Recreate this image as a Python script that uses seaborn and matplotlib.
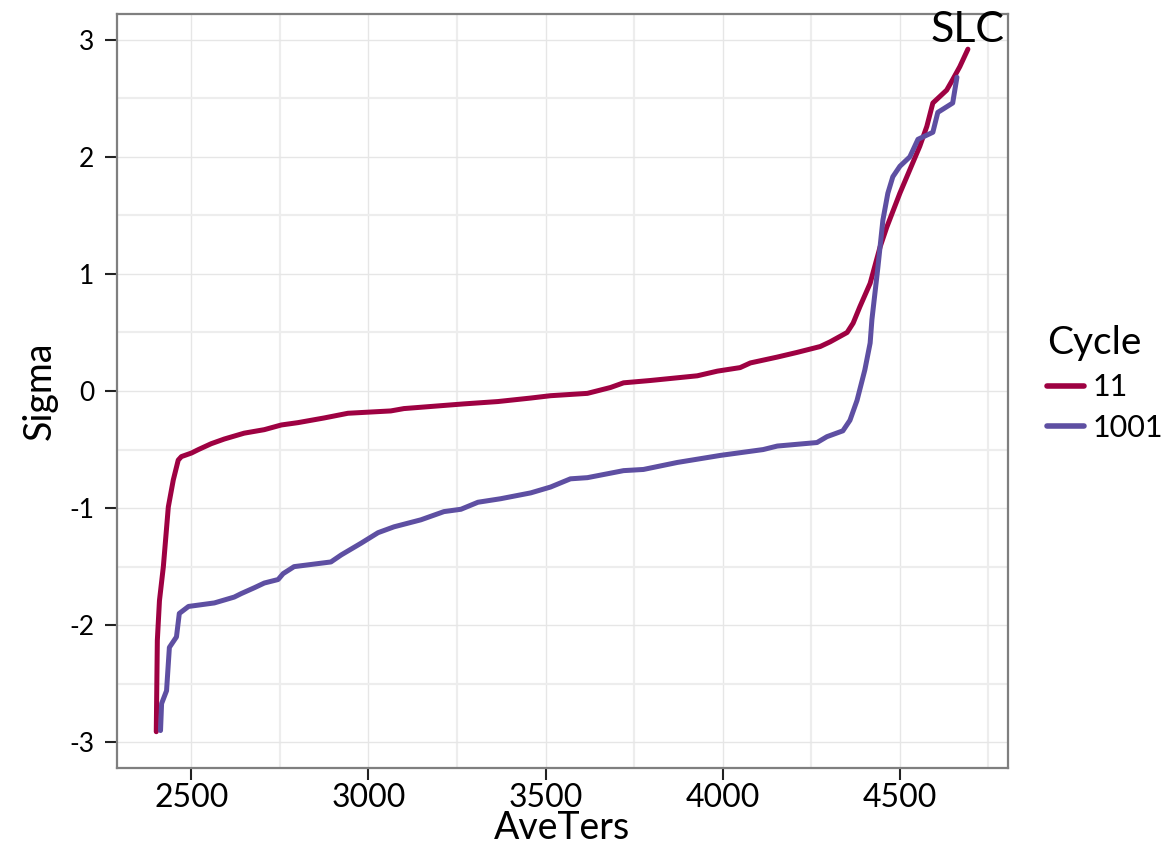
import numpy as np
import pandas as pd
import seaborn as sns
from matplotlib import pyplot as plt
from matplotlib.ticker import MultipleLocator

# Cycle 11
ave_11 = [2401, 2404, 2410, 2421, 2435, 2449, 2463, 2472, 2500, 2520, 2556, 2593,
          2649, 2706, 2754, 2801, 2875, 2942, 3063, 3100, 3269, 3365, 3458, 3514,
          3618, 3683, 3720, 3796, 3928, 3985, 4049, 4078, 4154, 4210, 4275, 4303,
          4351, 4368, 4387, 4416, 4444, 4463, 4500, 4528, 4556, 4576, 4593, 4632,
          4649, 4669, 4692]
sigma_11 = [-2.91, -2.13, -1.79, -1.50, -0.99, -0.76, -0.59, -0.56, -0.53, -0.50,
            -0.45, -0.41, -0.36, -0.33, -0.29, -0.27, -0.23, -0.19, -0.17, -0.15,
            -0.11, -0.09, -0.06, -0.04, -0.02, 0.03, 0.07, 0.09, 0.13, 0.17, 0.20,
            0.24, 0.29, 0.33, 0.38, 0.42, 0.50, 0.58, 0.72, 0.92, 1.23, 1.40, 1.69,
            1.89, 2.09, 2.26, 2.46, 2.57, 2.66, 2.77, 2.92]

# Cycle 1001
ave_1001 = [2413, 2416, 2430, 2438, 2458, 2466, 2492, 2565, 2621, 2641, 2678, 2706,
            2745, 2759, 2790, 2894, 2923, 2979, 3027, 3072, 3148, 3213, 3261, 3309,
            3373, 3458, 3514, 3570, 3618, 3720, 3776, 3872, 3973, 3993, 4114, 4154,
            4266, 4294, 4339, 4359, 4379, 4401, 4416, 4421, 4438, 4452, 4466, 4480,
            4500, 4528, 4551, 4593, 4607, 4649, 4661]
sigma_1001 = [-2.90, -2.67, -2.56, -2.19, -2.10, -1.90, -1.84, -1.81, -1.76, -1.73,
              -1.68, -1.64, -1.61, -1.56, -1.50, -1.46, -1.40, -1.30, -1.21, -1.16,
              -1.10, -1.03, -1.01, -0.95, -0.92, -0.87, -0.82, -0.75, -0.74, -0.68,
              -0.67, -0.61, -0.56, -0.55, -0.50, -0.47, -0.44, -0.39, -0.34, -0.25,
              -0.08, 0.18, 0.41, 0.61, 1.06, 1.46, 1.69, 1.83, 1.92, 2.00, 2.15,
              2.21, 2.38, 2.46, 2.68]

cycles = ["11", "1001"]
colors = {"11": "#9E0142", "1001": "#5E4FA2"}
label_text = "SLC"

df = pd.concat([
    pd.DataFrame({"AveTers": ave_11, "Sigma": sigma_11, "Cycle": "11"}),
    pd.DataFrame({"AveTers": ave_1001, "Sigma": sigma_1001, "Cycle": "1001"}),
])

sns.set_theme(style="white")
plt.rcParams["font.family"] = ["Lato", "DejaVu Sans"]
plt.rcParams["text.color"] = "black"
plt.rcParams["axes.labelcolor"] = "black"
plt.rcParams["xtick.color"] = "black"
plt.rcParams["ytick.color"] = "black"

fig = plt.figure(figsize=(11.73, 8.56), dpi=100)
ax = fig.add_axes([0.0997, 0.1028, 0.7596, 0.8808])

sns.lineplot(data=df, x="AveTers", y="Sigma", hue="Cycle", hue_order=cycles,
             palette=colors, sort=False, estimator=None, linewidth=3.6, ax=ax)

# label at the end of the cycle-11 curve
ax.text(ave_11[-1], sigma_11[-1], label_text, ha="center", va="bottom",
        fontsize=31, clip_on=False)

ax.set_xlim(2290, 4805)
ax.set_ylim(-3.22, 3.22)
ax.xaxis.set_major_locator(MultipleLocator(500))
ax.xaxis.set_minor_locator(MultipleLocator(250))
ax.yaxis.set_minor_locator(MultipleLocator(0.5))
ax.set_yticks([-3, -2, -1, 0, 1, 2, 3])
ax.set_yticklabels(["-3", "-2", "-1", "0", "1", "2", "3"])

ax.grid(which="major", color="#e6e6e6", linewidth=1.0)
ax.grid(which="minor", color="#ededed", linewidth=1.6)
ax.set_axisbelow(True)
for s in ax.spines.values():
    s.set_color("#7f7f7f")
    s.set_linewidth(1.6)

ax.tick_params(axis="both", which="major", direction="out", length=8.5,
               width=1.5, color="#222222", bottom=True, left=True)
ax.tick_params(axis="both", which="minor", length=0)
ax.tick_params(axis="x", labelsize=23, pad=2)
ax.tick_params(axis="y", labelsize=19, pad=8)

ax.set_xlabel("AveTers", fontsize=27, labelpad=-2)
ax.set_ylabel("Sigma", fontsize=27, labelpad=8)

leg = ax.legend(title="Cycle", loc="center left", bbox_to_anchor=(1.03, 0.51),
                frameon=False, fontsize=22, title_fontsize=28,
                handlelength=1.2, handletextpad=0.3, labelspacing=0.4,
                borderaxespad=0)
leg._legend_box.align = "left"
for line in leg.get_lines():
    line.set_linewidth(4)

fig.savefig("out.png", dpi=100)
